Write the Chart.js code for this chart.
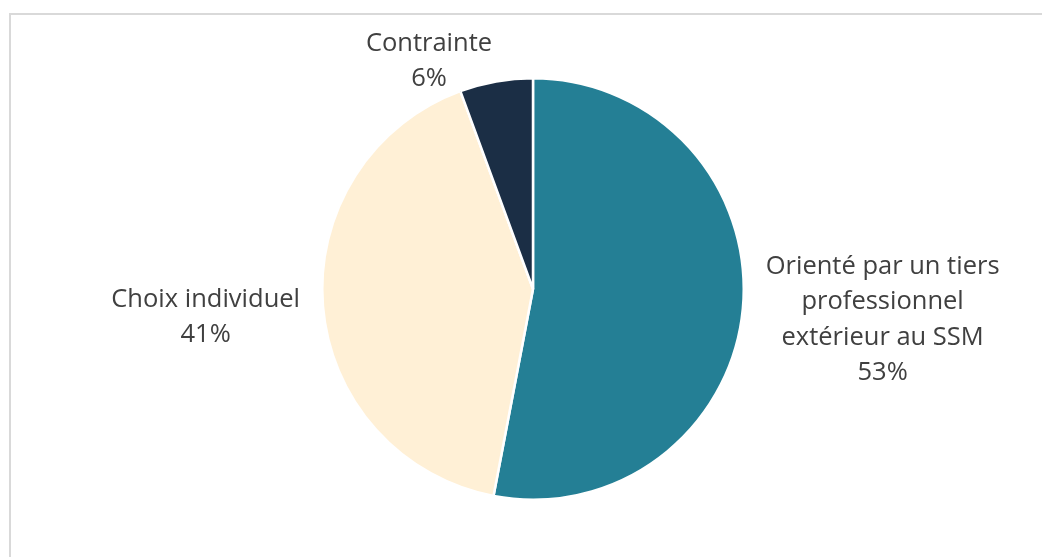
<!DOCTYPE html>
<html>
<head>
<meta charset="utf-8">
<script src="https://cdn.jsdelivr.net/npm/chart.js@4"></script>
<style>
  html, body { margin: 0; padding: 0; background: #fff; overflow: hidden; }
  #frame {
    position: absolute; left: 9px; top: 13px; width: 1100px; height: 600px;
    border-left: 2px solid #d9d9d9; border-top: 2px solid #d9d9d9;
  }
  #myChart { position: absolute; left: 0; top: 0; }
</style>
</head>
<body>
<div id="frame"></div>
<canvas id="myChart" width="1042" height="557"></canvas>
<script>
// catégories (les retours à la ligne comme dans l'original)
const categories = [
  ['Orienté par un tiers', 'professionnel', 'extérieur au SSM'],
  'Choix individuel',
  'Contrainte'
];
// parts en %
const shares = [53.0, 41.4, 5.6];
const colors = ['#247f95', '#fff0d6', '#1b2e45'];

const labelFont = '25.5px "Open Sans", "Noto Sans", sans-serif';
const labelColor = '#404040';
const lineHeight = 35.5;
const labelGap = 23;

// étiquettes à l'extérieur des parts
const outsideLabels = {
  id: 'outside-labels',
  afterDraw: (chart) => {
    const { ctx, data } = chart;
    const meta = chart.getDatasetMeta(0);
    ctx.save();
    ctx.font = labelFont;
    ctx.fillStyle = labelColor;
    ctx.textBaseline = 'middle';
    ctx.textAlign = 'center';

    meta.data.forEach((arc, i) => {
      const mid = (arc.startAngle + arc.endAngle) / 2;
      const r = arc.outerRadius + labelGap;
      const ax = arc.x + Math.cos(mid) * r;
      // petit décalage vers le bas pour les étiquettes latérales
      const ay = arc.y + Math.sin(mid) * r + 1 + 8 * Math.abs(Math.cos(mid));

      let lines = data.labels[i];
      lines = Array.isArray(lines) ? lines.slice() : [lines];
      lines.push(Math.round(data.datasets[0].data[i]) + '%');

      const boxW = Math.max(...lines.map(l => ctx.measureText(l).width));
      // boîte collée au point d'ancrage, à gauche ou à droite selon le côté
      const cx = Math.cos(mid) >= 0 ? ax + boxW / 2 : ax - boxW / 2;
      const y0 = ay - (lines.length - 1) * lineHeight / 2;
      lines.forEach((l, k) => ctx.fillText(l, cx, y0 + k * lineHeight));
    });
    ctx.restore();
  }
};

const myChart = new Chart(document.getElementById('myChart'), {
  type: 'pie',
  data: {
    labels: categories,
    datasets: [{
      data: shares,
      backgroundColor: colors,
      borderColor: '#ffffff',
      borderWidth: 2.5
    }]
  },
  options: {
    responsive: false,
    animation: false,
    layout: { padding: { left: 24, right: 0, top: 77, bottom: 56 } },
    plugins: {
      legend: { display: false },
      tooltip: { enabled: false }
    }
  },
  plugins: [outsideLabels]
});
</script>
</body>
</html>
